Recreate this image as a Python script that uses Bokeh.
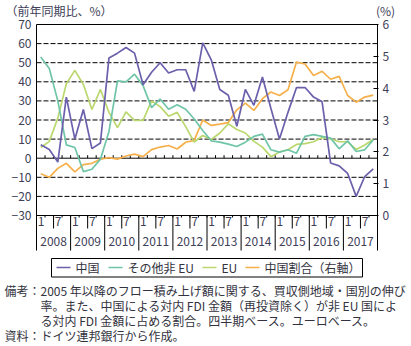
from bokeh.plotting import figure
from bokeh.layouts import column
from bokeh.models import Range1d, LinearAxis, FixedTicker
from bokeh.core.properties import value
from bokeh.embed import file_html
from bokeh.resources import INLINE

# ---------------- data ----------------
years = ["2008", "2009", "2010", "2011", "2012", "2013", "2014", "2015", "2016", "2017"]
month_labels = ["1", "7"]

china = [7, 4.5, -2, 32,
         10, 25.5, 5, 8,
         52.5, 55, 58, 55,
         38.5, 45, 50, 44.6,
         46.3, 46.3, 35, 60.4,
         51.5, 36, 33, 16.7,
         36, 27.7, 42.5, 26,
         10, 24, 37, 37,
         32, 29.5, -2.5, -4,
         -8, -20, -9.6, -5.6]

other_non_eu = [53, 47, 30, 7,
                5.6, -7, -5.8, -0.5,
                14, 40.5, 40, 44,
                38, 26.5, 31, 25.6,
                28, 25.6, 20.5, 14.5,
                9.1, 8.4, 7.4, 6.1,
                8.4, 11.4, 12.6, 4.4,
                3.2, 4.4, 2.6, 11.4,
                12.3, 11.4, 10.5, 4.9,
                9.1, 3.5, 4.4, 9.6]

eu = [5.6, 8.8, 21, 39,
      46, 38.6, 25.5, 36,
      24, 16, 24.3, 19.8,
      19.8, 30, 27, 22,
      24, 16.5, 8.4, 11.9,
      9.8, 13.2, 18, 15,
      13.2, 8.8, 5.8, 0.8,
      3.3, 4.4, 7.2, 7.6,
      8.6, 10.8, 10.2, 8.6,
      8.6, 4.6, 6.9, 9.8]

china_share = [1.31, 1.2, 1.48, 1.64,
               1.37, 1.6, 1.64, 1.77,
               1.82, 1.77, 1.87, 1.93,
               1.85, 2.07, 2.15, 2.2,
               2.09, 2.3, 2.36, 3.0,
               2.83, 2.87, 2.92, 3.32,
               3.53, 3.3, 3.67, 3.88,
               3.77, 3.95, 4.82, 4.76,
               4.4, 4.53, 4.28, 4.37,
               3.77, 3.56, 3.72, 3.78]

left_ticks = [-30, -20, -10, 0, 10, 20, 30, 40, 50, 60, 70]
right_ticks = [0, 1, 2, 3, 4, 5, 6]

series_names = ["中国", "その他非 EU", "EU", "中国割合（右軸）"]
left_title = "（前年同期比、%）"
right_title = "(%)"
note_lines = ["2005 年以降のフロー積み上げ額に関する、買収側地域・国別の伸び",
              "率。また、中国による対内 FDI 金額（再投資除く）が非 EU 国によ",
              "る対内 FDI 金額に占める割合。四半期ベース。ユーロベース。"]
source_line = "資料：ドイツ連邦銀行から作成。"

# ---------------- style constants ----------------
FONT = "Noto Sans CJK JP"
TICK_COLOR = "#404058"
TEXT_COLOR = "#333340"
C_CHINA = "#6a60ac"
C_OTHER = "#6fc5a6"
C_EU = "#bad86e"
C_SHARE = "#f6b04b"
W = 411
TOP_H = 20          # strip holding the two axis titles
OVERLAP = 4         # main chart slides under the strip by this much
MAIN_TOP = TOP_H - OVERLAP
MAIN_H = 251 - MAIN_TOP
BOT_H = 346 - 251


def blank(fig):
    fig.grid.visible = False
    fig.outline_line_color = None
    fig.background_fill_color = "white"
    fig.border_fill_color = "white"
    fig.frame_align = False


# ---------------- top strip (axis titles) ----------------
top = figure(width=W, height=TOP_H, x_range=Range1d(0, W), y_range=Range1d(0, TOP_H),
             x_axis_location=None, y_axis_location=None,
             output_backend="svg", toolbar_location=None,
             min_border_left=0, min_border_right=0, min_border_top=0, min_border_bottom=0)
blank(top)
top.text(x=[5], y=[TOP_H - 10], text=[left_title], text_font=value(FONT), text_font_size=value("12px"),
         text_align="left", text_baseline="middle", text_color=TICK_COLOR)
top.text(x=[385], y=[TOP_H - 10], text=[right_title], text_font=value(FONT), text_font_size=value("12px"),
         text_align="center", text_baseline="middle", text_color=TICK_COLOR)

# ---------------- main chart ----------------
nq = len(china)
PX_X = 341 / nq          # px per quarter
PX_Y = 191 / 100         # px per left-axis unit
LEFT_MIN, LEFT_MAX = left_ticks[0], left_ticks[-1]


def y_at(canvas_y):
    # canvas y (px from page top; value LEFT_MAX sits at 24) -> left-axis data
    return LEFT_MAX - (canvas_y - 24) / PX_Y


x_start = -1 / PX_X
x_end = nq + 1 / PX_X
y_end = LEFT_MAX + 1 / PX_Y
y_start = LEFT_MIN - 36 / PX_Y
ratio = (right_ticks[-1] - right_ticks[0]) / (LEFT_MAX - LEFT_MIN)

p = figure(width=W, height=MAIN_H,
           x_range=Range1d(x_start, x_end), y_range=Range1d(y_start, y_end),
           x_axis_location=None, y_axis_location=None,
           output_backend="svg", toolbar_location=None,
           min_border_left=35, min_border_right=33, min_border_top=23 - MAIN_TOP, min_border_bottom=0)
blank(p)
p.border_fill_color = None
p.margin = (-OVERLAP, 0, 0, 0)
p.extra_y_ranges = {"share": Range1d((y_start - LEFT_MIN) * ratio, (y_end - LEFT_MIN) * ratio)}

left_axis = LinearAxis(ticker=FixedTicker(ticks=left_ticks), axis_line_color=None,
                       major_tick_in=0, major_tick_out=0, minor_tick_line_color=None,
                       major_label_standoff=4, major_label_text_font_size="12px",
                       major_label_text_font=FONT, major_label_text_color=TICK_COLOR)
p.add_layout(left_axis, "left")

right_axis = LinearAxis(y_range_name="share", ticker=FixedTicker(ticks=right_ticks),
                        axis_line_color=None, major_tick_in=5, major_tick_out=0,
                        major_tick_line_color="black", minor_tick_line_color=None,
                        major_label_standoff=4, major_label_text_font_size="12px",
                        major_label_text_font=FONT, major_label_text_color=TICK_COLOR)
p.add_layout(right_axis, "right")

bottom_y = y_at(250)
grid_vals = [v for v in left_ticks if v not in (LEFT_MIN, 0, LEFT_MAX)]
p.segment(x0=[0] * len(grid_vals), x1=[nq] * len(grid_vals), y0=grid_vals, y1=grid_vals,
          line_color="black", line_width=1, line_dash="5 2")

p.segment(x0=[0, 0, 0, nq, 0], x1=[nq, nq, 0, nq, nq],
          y0=[LEFT_MAX, LEFT_MIN, bottom_y, bottom_y, 0],
          y1=[LEFT_MAX, LEFT_MIN, LEFT_MAX, LEFT_MAX, 0],
          line_color="black", line_width=1)

qb = list(range(1, nq))
p.segment(x0=qb, x1=qb, y0=[0] * len(qb), y1=[3 / PX_Y] * len(qb), line_color="black", line_width=1)
p.segment(x0=qb, x1=qb, y0=[LEFT_MIN] * len(qb), y1=[y_at(217)] * len(qb), line_color="black", line_width=1)
half = [4 * i + 2 for i in range(len(years))]
p.segment(x0=half, x1=half, y0=[LEFT_MIN] * len(half), y1=[y_at(228)] * len(half), line_color="black", line_width=1)
yb = [4 * i for i in range(1, len(years))]
p.segment(x0=yb, x1=yb, y0=[LEFT_MIN] * len(yb), y1=[bottom_y] * len(yb), line_color="black", line_width=1)

mx = []
mt = []
for i in range(len(years)):
    for j, m in enumerate(month_labels):
        mx.append(4 * i + 2 * j + 0.15)
        mt.append(m)
p.text(x=mx, y=[y_at(221)] * len(mx), text=mt, text_font=value(FONT), text_font_size=value("12px"),
       text_align="left", text_baseline="middle", text_color=TICK_COLOR)
p.text(x=[4 * i + 2 for i in range(len(years))], y=[y_at(241)] * len(years), text=years,
       text_font=value(FONT), text_font_size=value("12px"), text_align="center",
       text_baseline="middle", text_color=TICK_COLOR)

xq = [i + 0.5 for i in range(nq)]
lw = 1.7
p.line(xq, china_share, y_range_name="share", line_color=C_SHARE, line_width=lw)
p.line(xq, eu, line_color=C_EU, line_width=lw)
p.line(xq, other_non_eu, line_color=C_OTHER, line_width=lw)
p.line(xq, china, line_color=C_CHINA, line_width=lw)

# ---------------- bottom strip (legend + notes) ----------------
bot = figure(width=W, height=BOT_H, x_range=Range1d(0, W), y_range=Range1d(0, BOT_H),
             x_axis_location=None, y_axis_location=None,
             output_backend="svg", toolbar_location=None,
             min_border_left=0, min_border_right=0, min_border_top=0, min_border_bottom=0)
blank(bot)


def by(cy):
    # canvas y (px from page top) -> bottom-strip data y
    return 346 - cy


# legend: frame box, swatches and labels
box_l, box_r, box_t, box_b = 51, 362, by(258), by(276.5)
bot.segment(x0=[box_l, box_l, box_l, box_r], x1=[box_r, box_r, box_l, box_r],
            y0=[box_t, box_b, box_b, box_b], y1=[box_t, box_b, box_t, box_t],
            line_color="black", line_width=1)
sw_x0 = [56, 108, 202, 245]
sw_len = 14
leg_y = by(267)
bot.segment(x0=sw_x0, x1=[s + sw_len for s in sw_x0], y0=[leg_y] * 4, y1=[leg_y] * 4,
            line_color=[C_CHINA, C_OTHER, C_EU, C_SHARE], line_width=1.3)
bot.text(x=[s + sw_len + 5 for s in sw_x0], y=[leg_y] * 4, text=series_names,
         text_font=value(FONT), text_font_size=value("12px"), text_align="left",
         text_baseline="middle", text_color=TEXT_COLOR)

bot.text(x=[4], y=[by(290)], text=["備考："], text_font=value(FONT), text_font_size=value("12px"),
         text_align="left", text_baseline="middle", text_color=TEXT_COLOR)
bot.text(x=[40] * len(note_lines), y=[by(290), by(305), by(320)], text=note_lines, text_font=value(FONT),
         text_font_size=value("12px"), text_align="left", text_baseline="middle", text_color=TEXT_COLOR)
bot.text(x=[4], y=[by(335)], text=[source_line], text_font=value(FONT), text_font_size=value("12px"),
         text_align="left", text_baseline="middle", text_color=TEXT_COLOR)

layout = column(top, p, bot, spacing=0)
open("out.html", "w").write(file_html(layout, INLINE))
